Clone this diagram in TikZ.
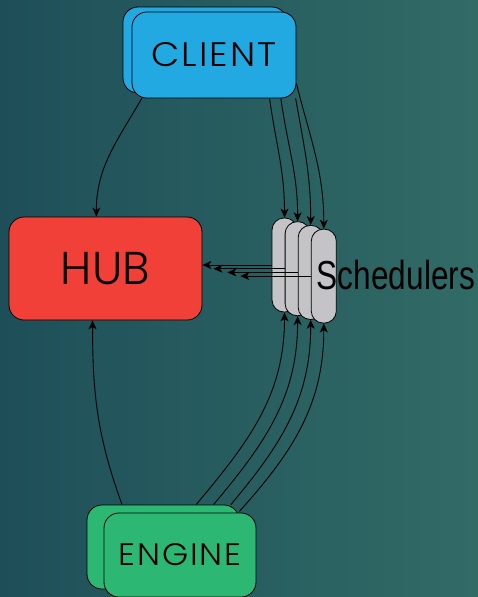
\documentclass[tikz,border=0pt]{standalone}
\usepackage{fontspec}
\usepackage{tikz}
\usetikzlibrary{
  arrows.meta,
  positioning,
}
\newfontfamily\boxfont[FakeStretch=1.08,LetterSpace=6]{Poppins Light}
\newfontfamily\hubfont{Poppins Light}
\newfontfamily\labelfont[FakeStretch=0.78]{Liberation Sans}
\tikzstyle{box} = [
  draw=black,
  line width=0.8pt,
  rectangle,
  rounded corners=15pt,
  inner sep=0pt,
]
\tikzstyle{pill} = [
  draw=black,
  line width=0.8pt,
  rectangle,
  rounded corners=12pt,
  minimum width=25,
  minimum height=94,
  inner sep=0pt,
  fill=schedgrey,
]
\tikzstyle{link} = [
  -{Stealth[length=9pt,width=8pt,inset=2.5pt]},
  line width=0.9pt,
  black,
]
\definecolor{bgdark}{RGB}{30, 79, 89}
\definecolor{bglight}{RGB}{49, 107, 102}
\definecolor{clientblue}{RGB}{35, 169, 225}
\definecolor{hubred}{RGB}{240, 64, 55}
\definecolor{enginegreen}{RGB}{44, 184, 115}
\definecolor{schedgrey}{RGB}{196, 196, 199}

\begin{document}
\begin{tikzpicture}[x=1pt,y=-1pt,node distance=0mm and 0mm]
      \path[use as bounding box] (0,0) rectangle (478,597);
      \fill[left color=bgdark,right color=bglight] (0,0) rectangle (478,597);

      \node[box,minimum width=164,minimum height=86,fill=clientblue]    (clientbg) at (205,50)    {};
      \node[box,minimum width=164,minimum height=86,fill=clientblue,font={\boxfont\fontsize{34}{40}\selectfont}]    (client) at (214,55)    {CLIENT};
      \node[box,minimum width=193,minimum height=103,fill=hubred,font={\hubfont\fontsize{46}{56}\selectfont}]    (hub) at (105.5,268.5)    {HUB};
      \node[box,minimum width=152,minimum height=84,fill=enginegreen]    (enginebg) at (163,547)    {};
      \node[box,minimum width=152,minimum height=84,fill=enginegreen,font={\boxfont\fontsize{31}{36}\selectfont}]    (engine) at (180,555)    {ENGINE};

      \node[pill]    (s1) at (284.5,265)    {};
      \node[pill]    (s2)  [right=-12.7pt of s1,yshift=-3.7pt]    {};
      \node[pill]    (s3)  [right=-12.7pt of s2,yshift=-3.7pt]    {};
      \node[pill]    (s4)  [right=-12.7pt of s3,yshift=-3.7pt]    {};
      \node[inner sep=0pt,font={\labelfont\fontsize{40.5}{48}\selectfont}]    (sched)  [right=-20pt of s4,yshift=1.5pt]    {Schedulers};

      \draw[link] (client.-149) to[out=-120,in=90] (hub.100);
      \draw[link] (enginebg.134) to[out=110,in=-90] (hub.-104);

      \draw[link] (client.-38) to[out=-82,in=90] (s1.north);
      \draw[link] (client.-33) to[out=-82,in=90] (s2.north);
      \draw[link] (client.-28) to[out=-80,in=90] (s3.north);
      \draw[link] (client.-19) to[out=-76,in=90] (s4.north);

      \draw[link] (enginebg.52) to[out=50,in=-90] (s1.south);
      \draw[link] (enginebg.40) to[out=50,in=-90] (s2.south);
      \draw[link] (enginebg.32) to[out=50,in=-90] (s3.south);
      \draw[link] (enginebg.25) to[out=48,in=-90] (s4.south);

      \draw[link] (s1.west) -- (s1.west -| hub.east);
      \draw[link,shorten >=11pt] (s2.west) -- (s2.west -| hub.east);
      \draw[link,shorten >=25pt] (s3.west) -- (s3.west -| hub.east);
      \draw[link,shorten >=38pt] (s4.west) -- (s4.west -| hub.east);
    \end{tikzpicture}
\end{document}
